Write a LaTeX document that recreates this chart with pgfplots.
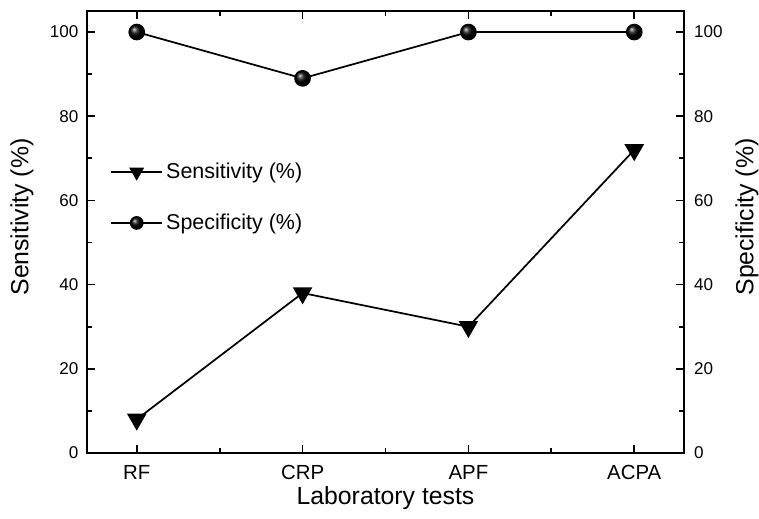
\documentclass[border=0pt]{standalone}
\usepackage{fontspec}
\setmainfont{Liberation Sans}
\usepackage{pgfplots}
\pgfplotsset{compat=1.18}
\usetikzlibrary{calc}

\begin{document}
\begin{tikzpicture}
\pgfplotsset{
  base/.style={
    scale only axis,
    width=447.75pt, height=331.5pt,
    xmin=-0.3, xmax=3.3,
    ymin=0, ymax=105,
    tick align=inside,
    major tick length=6pt,
    minor tick length=3.5pt,
    axis line style={line width=1.3pt},
    every tick/.style={line width=1.3pt, black},
    /pgf/number format/assume math mode=true,
    ytick={0,20,...,100},
    minor ytick={10,30,...,90},
    yticklabel style={font=\fontsize{12.8}{14}\selectfont},
    label style={font=\fontsize{18.6}{21}\selectfont},
  }
}
\begin{axis}[
  base,
  name=ax,
  xtick={0,1,2,3},
  xticklabels={RF,CRP,APF,ACPA},
  minor xtick={0.5,1.5,2.5},
  xticklabel style={font=\fontsize{15.3}{17}\selectfont, yshift=-5.5pt},
  yticklabel style={xshift=-3pt},
  ytick pos=left,
  xtick pos=both,
  xlabel={Laboratory tests},
  xlabel style={at={(rel axis cs:0.5,-0.103)}, anchor=center},
  ylabel={Sensitivity (\%)},
  ylabel style={at={(rel axis cs:-0.109,0.534)}, anchor=center, rotate=0},
  legend style={draw=none, fill=none, at={(axis cs:-0.16,60.7)}, anchor=west,
    inner sep=0pt, font=\fontsize{16.1}{18}\selectfont, row sep=20pt,
    nodes={inner sep=2.5pt}},
  legend cell align=left,
  legend image code/.code={%
    \draw[mark repeat=2, mark phase=2, #1]
      plot coordinates {(0pt,0pt) (19pt,0pt) (38pt,0pt)};},
]
\addplot[black, line width=1.3pt, mark=triangle*, mark size=7.2pt,
  mark options={rotate=180, solid}, forget plot]
  coordinates {(0,8) (1,38) (2,30) (3,72)};
\addplot[black, line width=1.3pt, mark=ball, mark size=5.6pt,
  mark options={ball color=black}, forget plot]
  coordinates {(0,100) (1,89) (2,100) (3,100)};
\addlegendimage{black, line width=1.3pt, mark=triangle*, mark size=5.2pt,
  mark options={rotate=180, solid}}
\addlegendentry{Sensitivity (\%)}
\addlegendimage{black, line width=1.3pt, mark=ball, mark size=4.5pt,
  mark options={ball color=black}}
\addlegendentry{Specificity (\%)}
\end{axis}
\begin{axis}[
  base,
  axis x line=none,
  axis y line*=right,
  ytick pos=right,
  yticklabel style={xshift=4pt},
  ylabel={Specificity (\%)},
  ylabel style={at={(rel axis cs:1.1055,0.534)}, anchor=center, rotate=0},
]
\end{axis}
\pgfresetboundingbox
\path ($(ax.south west)+(-65.25pt,-48.75pt)$) rectangle ($(ax.north east)+(56.25pt,8.25pt)$);
\end{tikzpicture}
\end{document}
